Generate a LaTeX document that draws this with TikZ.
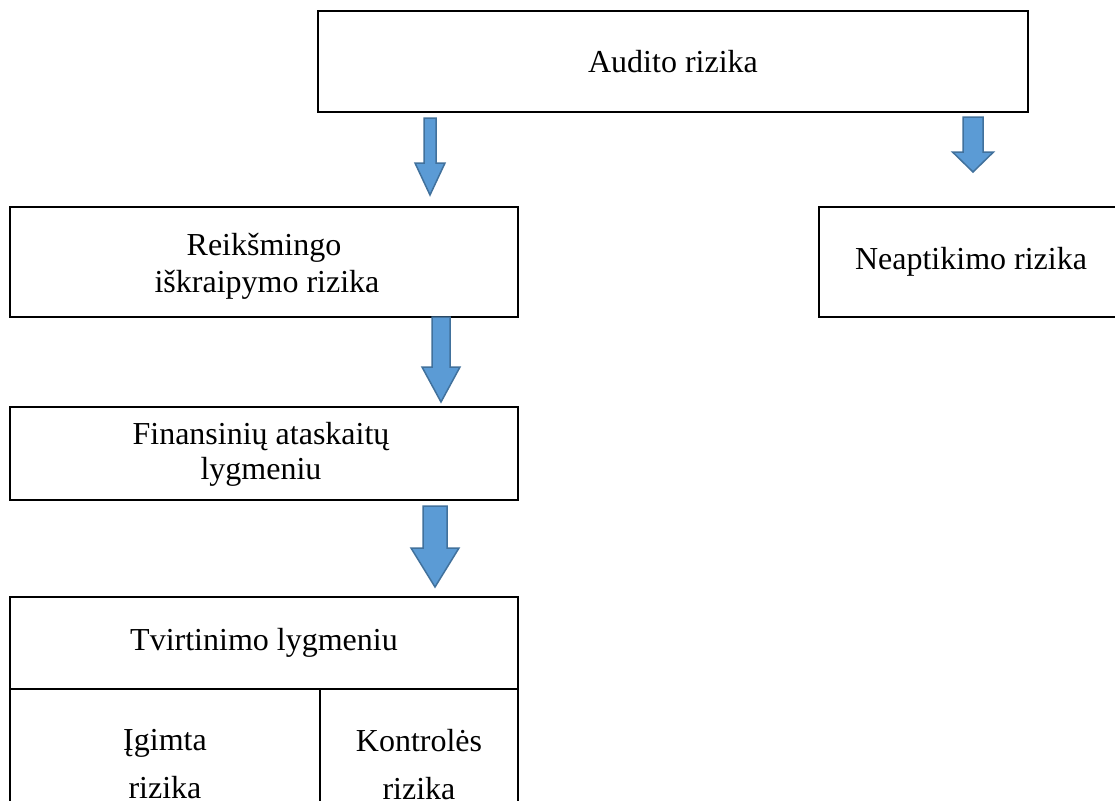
\documentclass[tikz,border=0pt]{standalone}
\usepackage{fontspec}
\setmainfont{Liberation Serif}
\definecolor{arrowfill}{HTML}{5B9BD5}
\definecolor{arrowline}{HTML}{41719C}
\newcommand\blockarrow[6]{% cx, top, headbase, tip, shafthalf, headhalf
  \draw[barrowstyle] (#1-#5,#2) -- (#1+#5,#2) -- (#1+#5,#3) -- (#1+#6,#3) -- (#1,#4) -- (#1-#6,#3) -- (#1-#5,#3) -- cycle;}
\begin{document}
\begin{tikzpicture}[x=1pt,y=-1pt,
  box/.style={draw, line width=2.5pt, inner sep=0pt, align=center, font=\fontsize{32}{38}\selectfont},
  txt/.style={inner sep=0pt, align=center, font=\fontsize{32}{38}\selectfont},
  barrowstyle/.style={fill=arrowfill, draw=arrowline, line width=1.5pt, line join=miter}]
\useasboundingbox (0,0) rectangle (1115,800);
\fill[white] (0,0) rectangle (1115,800);
\clip (0,0) rectangle (1115,800);

\node[box, minimum width=710pt, minimum height=101pt] (audit) at (673,61.5) {Audito rizika};
\node[box, minimum width=508pt, minimum height=110pt] (reik) at (264,262) {};
\node[txt, font=\fontsize{32}{37}\selectfont] (reiktxt) at ([yshift=-4pt]reik.center) {Reikšmingo\\\hspace*{6pt}iškraipymo rizika};
\node[box, minimum width=304pt, minimum height=110pt] (neap) at (971,262) {Neaptikimo rizika};
\node[box, minimum width=508pt, minimum height=93pt] (fin) at (264,453.5) {};
\node[txt, font=\fontsize{32}{35}\selectfont] (fintxt) at ([xshift=-3pt,yshift=-1pt]fin.center) {Finansinių ataskaitų\\lygmeniu};
\node[box, minimum width=508pt, minimum height=92pt] (tvirt) at (264,643) {Tvirtinimo lygmeniu};
\node[box, minimum width=310pt, minimum height=151pt] (igim) at (165,764.5) {};
\node[txt, font=\fontsize{32}{48}\selectfont] (igimtxt) at ([yshift=0pt]igim.center) {Įgimta\\rizika};
\node[box, minimum width=198pt, minimum height=151pt] (kontr) at (419,764.5) {};
\node[txt, font=\fontsize{32}{48}\selectfont] (kontrtxt) at ([yshift=0pt]kontr.center) {Kontrolės\\rizika};

\blockarrow{430}{118}{163}{195}{6}{15}
\blockarrow{973}{117}{152}{172}{10}{20.5}
\blockarrow{441}{317}{367}{402}{9}{19}
\blockarrow{435}{506}{548}{587}{12}{24}
\end{tikzpicture}
\end{document}
